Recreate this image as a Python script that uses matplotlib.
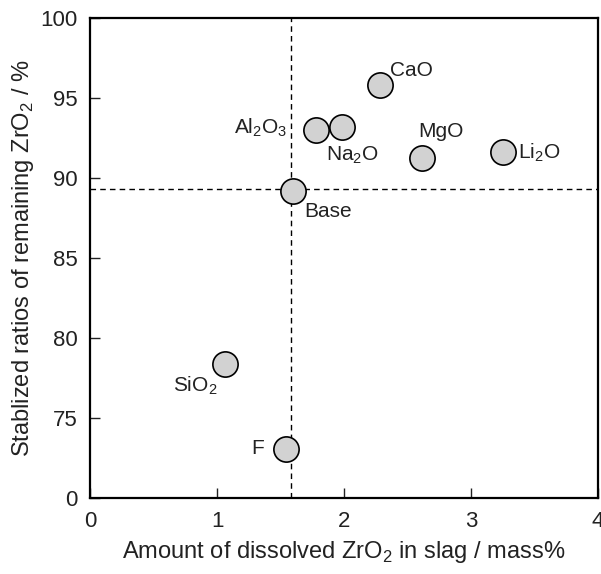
#!/usr/bin/env python3
"""Stabilized ratio of remaining ZrO2 vs dissolved ZrO2 in slag"""

import matplotlib
matplotlib.use("Agg")
import matplotlib.pyplot as plt

plt.rcParams["font.family"] = ["Liberation Sans", "DejaVu Sans"]
plt.rcParams["mathtext.fontset"] = "custom"
plt.rcParams["mathtext.rm"] = "Liberation Sans"

# Data
labels = ["Base", "Al$_2$O$_3$", "Na$_2$O", "CaO", "MgO", "Li$_2$O", "SiO$_2$", "F"]
dissolved = [1.60, 1.78, 1.98, 2.28, 2.61, 3.25, 1.06, 1.54]
stabilized = [89.2, 93.0, 93.2, 95.8, 91.25, 91.6, 78.4, 73.1]

# label placement (pixels from point), alignment
offsets = [(11, -21, "left"), (-29, 2, "right"), (11, -29, "center"),
           (10, 15, "left"), (19, 26, "center"), (15, 0, "left"),
           (-7, -22, "right"), (-22, 0, "right")]

y_ticks = [70, 75, 80, 85, 90, 95, 100]
y_ticklabels = ["0", "75", "80", "85", "90", "95", "100"]
x_ticks = [0, 1, 2, 3, 4]

fig = plt.figure(figsize=(6.01, 5.74), dpi=100)
ax = fig.add_axes([0.150, 0.132, 0.845, 0.837])

# reference lines at the Base composition
ax.axvline(dissolved[0] - 0.02, color="black", linestyle=(0, (4, 3)), linewidth=1.0, zorder=1)
ax.axhline(stabilized[0] + 0.1, color="black", linestyle=(0, (4, 3)), linewidth=1.0, zorder=1)

ax.scatter(dissolved, stabilized, s=330, facecolor="#d2d2d2", edgecolor="black",
           linewidths=1.2, zorder=3)

for lab, x, y, (dx, dy, ha) in zip(labels, dissolved, stabilized, offsets):
    ax.annotate(lab, (x, y), xytext=(dx, dy), textcoords="offset pixels",
                ha=ha, va="center", fontsize=15, color="#222222")

ax.set_xlim(0, 4)
ax.set_ylim(70, 100)
ax.set_xticks(x_ticks)
ax.set_yticks(y_ticks)
ax.set_yticklabels(y_ticklabels)
ax.tick_params(direction="in", length=7, width=1.0, labelsize=16, pad=9, colors="#222222")
for sp in ax.spines.values():
    sp.set_linewidth(1.6)

ax.set_xlabel("Amount of dissolved ZrO$_2$ in slag / mass%", fontsize=17, labelpad=5, color="#222222")
ax.set_ylabel("Stablized ratios of remaining ZrO$_2$ / %", fontsize=17, labelpad=3, color="#222222")

fig.savefig("out.png", dpi=100)
